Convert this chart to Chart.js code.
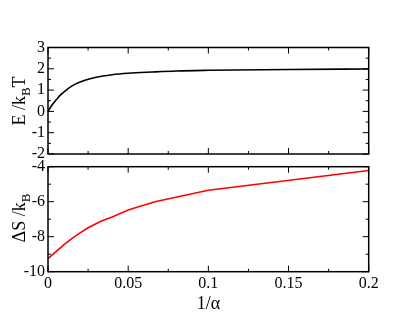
<!DOCTYPE html>
<html>
<head>
<meta charset="utf-8">
<script src="https://cdn.jsdelivr.net/npm/chart.js@4"></script>
<style>
  html, body { margin: 0; padding: 0; background: #fff; }
  #wrap { position: relative; width: 415px; height: 321px; overflow: hidden; }
  canvas { position: absolute; left: 0; top: 0; }
  .ytitle {
    position: absolute;
    font-family: "Liberation Serif", serif;
    font-size: 18px;
    line-height: 20px;
    white-space: nowrap;
    color: #000;
    transform: translate(-50%, -50%) rotate(-90deg);
  }
  .ytitle sub { font-size: 13px; vertical-align: -5px; line-height: 0; }
</style>
</head>
<body>
<div id="wrap">
  <canvas id="top-chart" width="415" height="321"></canvas>
  <canvas id="bottom-chart" width="415" height="321"></canvas>
  <div class="ytitle" style="left:19px; top:101px;">E /k<sub>B</sub>T</div>
  <div class="ytitle" style="left:19px; top:218px;">ΔS /k<sub>B</sub></div>
</div>
<script>
// 1/alpha values and curves
const energyX = [0, 0.0025, 0.005, 0.0075, 0.01, 0.015, 0.02, 0.03, 0.04, 0.05, 0.065, 0.08, 0.1, 0.15, 0.2];
const energyY = [0, 0.3, 0.53, 0.75, 0.92, 1.2, 1.38, 1.6, 1.72, 1.79, 1.85, 1.9, 1.93, 1.97, 1.99];

const entropyX = [0, 0.005, 0.01, 0.015, 0.02, 0.025, 0.0333, 0.04, 0.05, 0.0667, 0.1, 0.2];
const entropyY = [-9.25, -8.85, -8.45, -8.1, -7.78, -7.49, -7.1, -6.88, -6.47, -6.0, -5.35, -4.22];

// ticks
const xMajorTicks = [0, 0.05, 0.1, 0.15, 0.2];
const xMinorTicks = [0.025, 0.075, 0.125, 0.175];
const xTickLabels = ['0', '0.05', '0.1', '0.15', '0.2'];

const topYTicks = [-2, -1, 0, 1, 2, 3];
const topYMinor = [-1.5, -0.5, 0.5, 1.5, 2.5];
const topYLabels = ['-2', '-1', '0', '1', '2', '3'];

const bottomYTicks = [-10, -8, -6, -4];
const bottomYMinor = [-9, -7, -5];
const bottomYLabels = ['-10', '-8', '-6', '-4'];

const tickFont = { family: 'Liberation Serif', size: 16 };

// frame + inward ticks on all four sides
const frameTicks = {
    id: 'frameTicks',
    afterDatasetsDraw(chart, args, opts) {
        const { ctx, chartArea: a, scales: { x, y } } = chart;
        ctx.save();
        ctx.strokeStyle = '#000';
        ctx.lineWidth = 1;
        ctx.beginPath();
        const vTick = (v, len) => {
            const px = x.getPixelForValue(v);
            ctx.moveTo(px, a.bottom); ctx.lineTo(px, a.bottom - len);
            ctx.moveTo(px, a.top); ctx.lineTo(px, a.top + len);
        };
        const hTick = (v, len) => {
            const py = y.getPixelForValue(v);
            ctx.moveTo(a.left, py); ctx.lineTo(a.left + len, py);
            ctx.moveTo(a.right, py); ctx.lineTo(a.right - len, py);
        };
        opts.xMajor.forEach(v => vTick(v, 6));
        opts.xMinor.forEach(v => vTick(v, 3));
        opts.yMajor.forEach(v => hTick(v, 6));
        opts.yMinor.forEach(v => hTick(v, 3));
        ctx.stroke();
        ctx.lineWidth = 1.5;
        ctx.strokeRect(a.left, a.top, a.right - a.left, a.bottom - a.top);
        ctx.restore();
    }
};

function points(xs, ys) {
    return xs.map((x, i) => ({ x: x, y: ys[i] }));
}

new Chart(document.getElementById('top-chart'), {
    type: 'line',
    data: {
        datasets: [{
            data: points(energyX, energyY),
            borderColor: '#000',
            borderWidth: 1.6,
            pointRadius: 0,
            cubicInterpolationMode: 'monotone',
            fill: false
        }]
    },
    options: {
        responsive: false,
        animation: false,
        layout: { padding: { left: 0, top: 47.5, right: 46.3, bottom: 167 } },
        plugins: {
            legend: { display: false },
            tooltip: { enabled: false },
            frameTicks: { xMajor: xMajorTicks, xMinor: xMinorTicks, yMajor: topYTicks, yMinor: topYMinor }
        },
        scales: {
            x: { type: 'linear', min: 0, max: 0.2, display: false },
            y: {
                type: 'linear', min: -2, max: 3,
                afterBuildTicks: s => { s.ticks = topYTicks.map(v => ({ value: v })); },
                afterFit: s => { s.width = 48; },
                ticks: { callback: (v, i) => topYLabels[i], color: '#000', font: tickFont, padding: 3, autoSkip: false },
                grid: { display: false, drawTicks: false },
                border: { display: false }
            }
        }
    },
    plugins: [frameTicks]
});

new Chart(document.getElementById('bottom-chart'), {
    type: 'line',
    data: {
        datasets: [{
            data: points(entropyX, entropyY),
            borderColor: '#ff0000',
            borderWidth: 1.6,
            pointRadius: 0,
            tension: 0,
            fill: false
        }]
    },
    options: {
        responsive: false,
        animation: false,
        layout: { padding: { left: 0, top: 166.7, right: 46.3, bottom: 0 } },
        plugins: {
            legend: { display: false },
            tooltip: { enabled: false },
            frameTicks: { xMajor: xMajorTicks, xMinor: xMinorTicks, yMajor: bottomYTicks, yMinor: bottomYMinor }
        },
        scales: {
            x: {
                type: 'linear', min: 0, max: 0.2,
                afterBuildTicks: s => { s.ticks = xMajorTicks.map(v => ({ value: v })); },
                afterFit: s => { s.height = 49.3; },
                ticks: { callback: (v, i) => xTickLabels[i], color: '#000', font: tickFont, padding: 2, maxRotation: 0, autoSkip: false },
                grid: { display: false, drawTicks: false },
                border: { display: false },
                title: {
                    display: true, text: '1/α', color: '#000',
                    font: { family: 'Liberation Serif', size: 18 },
                    padding: { top: 0, bottom: 6 }
                }
            },
            y: {
                type: 'linear', min: -10, max: -4,
                afterBuildTicks: s => { s.ticks = bottomYTicks.map(v => ({ value: v })); },
                afterFit: s => { s.width = 48; },
                ticks: { callback: (v, i) => bottomYLabels[i], color: '#000', font: tickFont, padding: 3, autoSkip: false },
                grid: { display: false, drawTicks: false },
                border: { display: false }
            }
        }
    },
    plugins: [frameTicks]
});
</script>
</body>
</html>
